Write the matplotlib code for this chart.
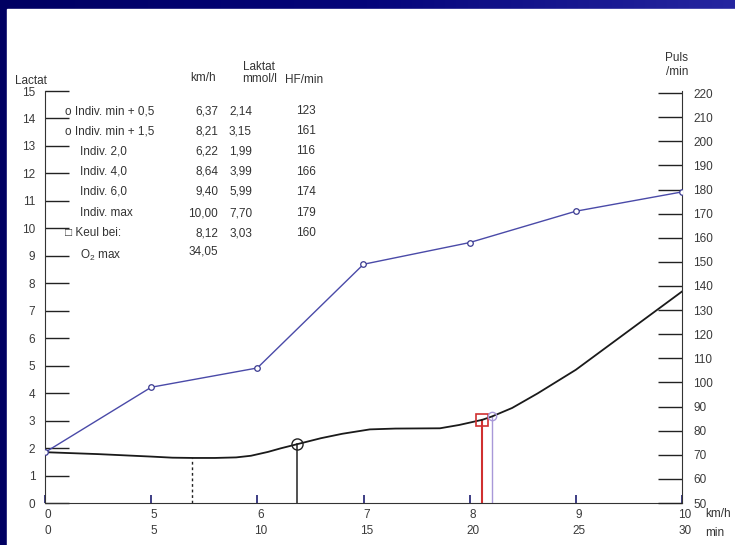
import numpy as np
import matplotlib.pyplot as plt
from matplotlib.colors import LinearSegmentedColormap
from matplotlib.patches import Rectangle
from matplotlib.transforms import ScaledTranslation

plt.rcParams['font.family'] = ['Liberation Sans Narrow', 'Liberation Sans', 'DejaVu Sans']
plt.rcParams['mathtext.default'] = 'regular'

# x axis runs in minutes, speed of each stage printed underneath
min_ticks = [0, 5, 10, 15, 20, 25, 30]
kmh_ticks = [0, 5, 6, 7, 8, 9, 10]

# lactate curve (mmol/l) over minutes
curve_min = [0, 2.5, 5, 6, 7, 8, 9, 9.7, 10.5, 11.1, 11.87, 13, 14, 15.3,
             16.5, 18.6, 19.5, 20.6, 21.05, 22, 23.2, 25, 27, 30]
curve_lac = [1.85, 1.78, 1.69, 1.65, 1.64, 1.64, 1.66, 1.72, 1.86, 1.99, 2.14,
             2.36, 2.52, 2.68, 2.71, 2.72, 2.84, 3.03, 3.15, 3.46, 3.99, 4.85,
             5.99, 7.70]

# heart rate at each stage
hf_min = [0, 5, 10, 15, 20, 25, 30]
hf_val = [71, 98, 106, 149, 158, 171, 179]

# threshold table
row_labels = ['o Indiv. min + 0,5', 'o Indiv. min + 1,5', 'Indiv. 2,0', 'Indiv. 4,0',
              'Indiv. 6,0', 'Indiv. max', '\u25a1 Keul bei:']
row_kmh = [6.37, 8.21, 6.22, 8.64, 9.40, 10.00, 8.12]
row_lac = [2.14, 3.15, 1.99, 3.99, 5.99, 7.70, 3.03]
row_hf = [123, 161, 116, 166, 174, 179, 160]
vo2max = 34.05

indiv_min_kmh = 5.38
indiv_min_lac = 1.64


def kmh_to_min(v):
    return np.interp(v, kmh_ticks[1:], min_ticks[1:])


def fmt(v):
    return f"{v:.2f}".replace('.', ',')


W, H = 735, 545
fig = plt.figure(figsize=(W / 100, H / 100), dpi=100)

# blue backdrop with white panel
bg = fig.add_axes([0, 0, 1, 1], zorder=-5)
grad = np.linspace(0, 1, 256).reshape(1, -1)
cmap = LinearSegmentedColormap.from_list('navy', ['#000062', '#05057a', '#2626a0'])
bg.imshow(grad, aspect='auto', extent=[0, 1, 0, 1], cmap=cmap)
bg.add_patch(Rectangle((7 / W, 0), 1, (H - 9) / H, color='white'))
bg.set_xlim(0, 1)
bg.set_ylim(0, 1)
bg.axis('off')

ax = fig.add_axes([45 / W, 42 / H, 637 / W, 412 / H])
ax.patch.set_visible(False)
ax.set_xlim(0, 30)
ax.set_ylim(0, 15)
for s in ['top', 'right']:
    ax.spines[s].set_visible(False)
ax.spines['left'].set_color('#333333')
ax.spines['bottom'].set_color('#333333')

ax.set_yticks(range(16))
ax.tick_params(axis='y', direction='in', length=17, width=1, pad=7,
               labelsize=8.5, color='#222222', labelcolor='#3a3a3a')
ax.set_xticks(min_ticks)
ax.set_xticklabels([f"{k}\n{m}" for k, m in zip(kmh_ticks, min_ticks)])
ax.tick_params(axis='x', direction='in', length=6, width=1.2, pad=4,
               labelsize=8.5, color='#1c1c70', labelcolor='#3a3a3a')
shift = ScaledTranslation(3 / 100, 0, fig.dpi_scale_trans)
for lab in ax.get_xticklabels():
    lab.set_linespacing(1.5)
    lab.set_transform(lab.get_transform() + shift)

hr = ax.twinx()
hr.set_ylim(50, 50 + 170 / 0.995)
for s in ['top', 'left', 'bottom']:
    hr.spines[s].set_visible(False)
hr.spines['right'].set_color('#333333')
hr.set_yticks(range(50, 221, 10))
hr.tick_params(axis='y', direction='in', length=17, width=1, pad=8,
               labelsize=8.5, color='#222222', labelcolor='#3a3a3a')

# heart rate
hr.plot(hf_min, hf_val, color='#4a4aa8', lw=1, marker='o', ms=4,
        mfc='white', mec='#3a3a90', mew=0.9, zorder=3)

# lactate curve
ax.plot(curve_min, curve_lac, color='#1a1a1a', lw=1.3, zorder=4)

# individual minimum
t_min = kmh_to_min(indiv_min_kmh)
ax.plot([t_min, t_min], [0, indiv_min_lac], color='#222222', lw=1, ls=(0, (2, 2)))

# min + 0.5
t = kmh_to_min(row_kmh[0])
ax.plot([t, t], [0, row_lac[0]], color='#222222', lw=1.1)
ax.plot(t, row_lac[0], marker='o', ms=8, mfc='none', mec='#222222', mew=1, zorder=5)

# Keul threshold
t = kmh_to_min(row_kmh[6])
ax.plot([t, t], [0, row_lac[6]], color='#d03030', lw=1.5)
ax.plot(t, row_lac[6], marker='s', ms=9, mfc='none', mec='#d03030', mew=1.2, zorder=5)

# min + 1.5
t = kmh_to_min(row_kmh[1])
ax.plot([t, t], [0, row_lac[1]], color='#a898d8', lw=1)
ax.plot(t, row_lac[1], marker='o', ms=6, mfc='none', mec='#a898d8', mew=1, zorder=5)


def put(x, y, s, **kw):
    kw.setdefault('fontsize', 8.5)
    kw.setdefault('color', '#333333')
    fig.text(x / W, 1 - y / H, s, va='center', **kw)


put(15, 81, 'Lactat')
put(203, 78, 'km/h', ha='center')
put(259, 67, 'Laktat', ha='center')
put(260, 79, 'mmol/l', ha='center')
put(304, 80, 'HF/min', ha='center')
put(677, 58, 'Puls', ha='center')
put(677, 72, '/min', ha='center')
put(705, 514, 'km/h')
put(705, 533, 'min')

row_y = [111, 131, 151, 172, 192, 213, 233]
for i, y in enumerate(row_y):
    x0 = 65 if i < 2 or i == 6 else 80
    put(x0, y, row_labels[i])
    put(218, y, fmt(row_kmh[i]), ha='right')
    put(252, y, fmt(row_lac[i]), ha='right')
    put(306, y, str(row_hf[i]), ha='center')
put(80, 255, 'O$_2$ max')
put(218, 252, fmt(vo2max), ha='right')

fig.savefig('out.png', dpi=100)
